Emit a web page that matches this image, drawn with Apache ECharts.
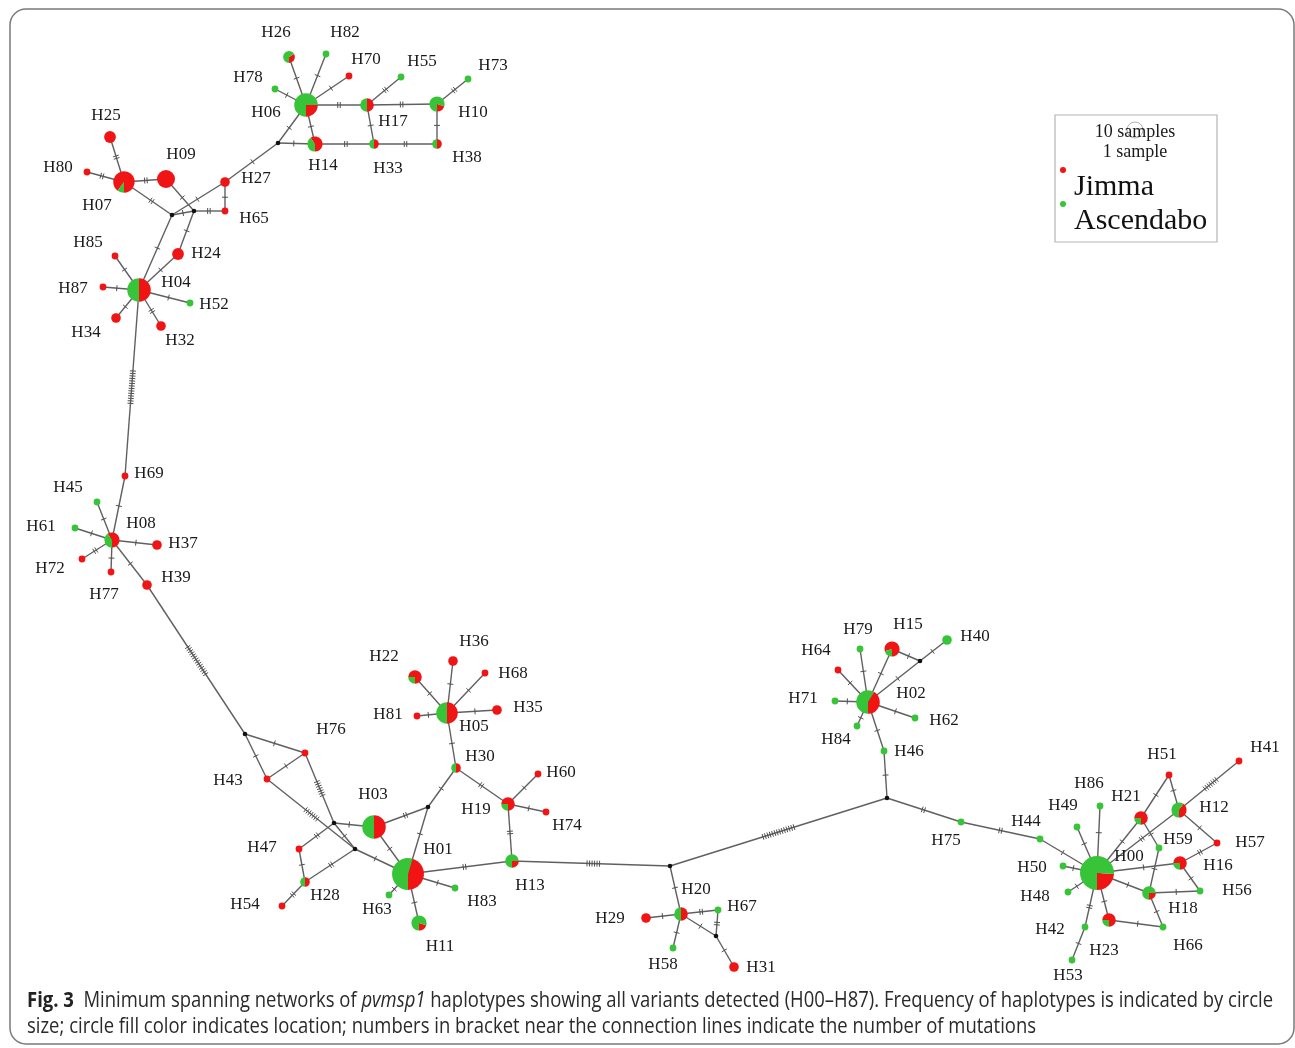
<!DOCTYPE html>
<html><head><meta charset="utf-8">
<script src="https://cdn.jsdelivr.net/npm/echarts@6/dist/echarts.min.js"></script>
<style>html,body{margin:0;padding:0;background:#fff}#c{width:1295px;height:1048px}</style>
</head><body><div id="c"></div>
<script>
// ---------- DATA ----------
// haplotype names, network layout coordinates, sample counts per location
const haplotypes = ['H06','H26','H82','H70','H78','H17','H55','H10','H73','H14','H33','H38','H27','H65','H07','H25','H80','H09','H24','H04','H85','H87','H52','H34','H32','H69','H08','H45','H61','H72','H77','H37','H39','H76','H43','H47','H28','H54','H03','H01','H63','H83','H11','H30','H05','H22','H36','H68','H35','H81','H19','H60','H74','H13','H20','H29','H67','H58','H31','H75','H02','H15','H40','H79','H64','H71','H84','H62','H46','H00','H44','H49','H86','H50','H48','H42','H53','H23','H66','H18','H56','H16','H57','H59','H21','H51','H12','H41'];
const layoutX = [306,289,326,349,275,367,401,437,468,315,374,437,225,225,124,110,87,166,178,139,115,103,190,116,161,125,112,97,75,82,111,157,147,305,267,299,305,282,374,408,389,455,419,456,447,415,453,485,497,417,508,538,546,512,681,646,718,673,734,961,868,892,947,860,838,835,857,915,884,1097,1040,1077,1100,1063,1068,1085,1072,1109,1163,1149,1200,1180,1217,1159,1141,1169,1179,1239];
const layoutY = [105,57,54,76,89,105,77,104,79,144,144,144,182,211,182,137,172,179,254,290,256,287,303,318,326,476,540,502,528,559,572,545,585,753,779,849,882,906,827,874,895,888,923,768,713,677,661,673,710,716,804,774,812,861,914,918,910,948,967,822,702,649,640,649,670,701,726,718,751,873,839,827,806,866,892,927,960,920,927,893,891,863,843,848,818,775,810,761];
const jimmaCount = [3,1,0,1,0,2,0,1,0,3,1,1,2,1,9,3,1,7,3,6,1,1,0,2,2,1,3,0,0,1,1,2,2,1,1,1,1,1,6,10,0,0,1,1,5,3,2,1,2,1,3,1,1,1,2,2,0,0,2,0,5,4,0,0,1,0,0,0,0,6,0,0,0,0,0,0,0,3,0,1,0,3,1,0,3,1,2,1];
const ascendaboCount = [9,2,1,0,1,2,1,4,1,2,1,1,0,0,1,0,0,0,0,6,0,0,1,0,0,0,2,1,1,0,0,0,0,0,0,0,1,0,6,12,1,1,4,1,5,1,0,0,0,0,1,0,0,3,2,0,1,1,0,1,7,1,2,1,0,1,1,1,1,19,1,1,1,1,1,1,1,1,1,3,1,1,0,1,1,0,3,0];
// median vectors (unsampled haplotypes)
const medianNames = ['mv1','mv2','mv3','mv4','mv5','mv6','mv7','mv8','mv9','mv10','mv11'];
const medianX = [278,172,194,245,334,355,428,670,716,887,920];
const medianY = [143,215,211,734,823,849,807,866,936,798,661];
// links: [from, to, number of mutations]
const links = [
 ['H06','H26',1],['H06','H82',1],['H06','H70',1],['H06','H78',1],['H06','H17',2],['H17','H55',2],['H17','H10',2],['H10','H73',2],
 ['H06','H14',1],['H14','H33',2],['H33','H17',1],['H33','H38',2],['H38','H10',1],['mv1','H06',1],['mv1','H14',1],['mv1','H27',1],
 ['H27','mv2',1],['H27','H65',1],['mv3','H65',2],['mv3','H09',1],['mv2','mv3',1],['mv3','H24',1],['H24','H04',1],['mv2','H07',2],
 ['mv2','H04',1],['H07','H25',2],['H07','H80',2],['H07','H09',2],['H04','H85',1],['H04','H87',1],['H04','H52',1],['H04','H34',1],
 ['H04','H32',2],['H04','H69',14],['H69','H08',1],['H08','H45',1],['H08','H61',1],['H08','H72',2],['H08','H77',1],['H08','H37',1],
 ['H08','H39',1],['H39','mv4',14],['mv4','H76',1],['mv4','H43',1],['H43','H76',1],['H76','mv5',7],['H43','mv6',7],['mv5','mv6',1],
 ['mv6','H01',1],['mv5','H03',1],['mv5','H47',2],['H47','H28',1],['mv6','H28',2],['H28','H54',2],['H03','H01',1],['H03','mv7',2],
 ['mv7','H01',1],['mv7','H30',1],['H30','H05',1],['H30','H19',2],['H05','H22',1],['H05','H36',1],['H05','H68',1],['H05','H35',1],
 ['H05','H81',1],['H19','H60',1],['H19','H74',1],['H19','H13',2],['H01','H13',2],['H01','H83',1],['H01','H63',1],['H01','H11',1],
 ['H13','mv8',6],['mv8','H20',1],['H20','H29',1],['H20','H67',2],['H67','mv9',2],['H20','mv9',1],['mv9','H31',1],['H20','H58',1],
 ['mv8','mv10',14],['mv10','H75',2],['H75','H44',2],['mv10','H46',1],['H46','H02',1],['H02','H15',1],['H15','mv11',1],['mv11','H40',1],
 ['H02','mv11',1],['H02','H79',1],['H02','H64',1],['H02','H71',1],['H02','H84',1],['H02','H62',1],['H44','H00',1],['H00','H49',1],
 ['H00','H86',1],['H00','H50',1],['H00','H48',1],['H00','H42',2],['H42','H53',1],['H00','H23',1],['H23','H66',1],['H66','H18',1],
 ['H18','H00',1],['H18','H56',1],['H18','H59',1],['H59','H21',1],['H00','H16',1],['H16','H56',1],['H16','H57',2],['H57','H12',1],
 ['H00','H12',2],['H00','H21',1],['H21','H51',1],['H51','H12',1],['H12','H41',7]
];
const legendItems = ['Jimma','Ascendabo'];
const sizeLegend = ['10 samples','1 sample'];

// ---------- LAYOUT / STYLE ----------
const labelOffset = {
 H26:[-13,-26],H82:[19,-23],H70:[17,-18],H78:[-27,-13],H55:[21,-17],H73:[25,-15],H06:[-40,6],H17:[26,15],H10:[36,7],H14:[8,20],
 H33:[14,23],H38:[30,12],H25:[-4,-23],H09:[15,-26],H80:[-29,-6],H27:[31,-5],H07:[-27,22],H65:[29,6],H85:[-27,-15],H24:[28,-2],
 H04:[37,-9],H87:[-30,0],H52:[24,0],H34:[-30,13],H32:[19,13],H69:[24,-4],H45:[-29,-16],H08:[29,-18],H61:[-34,-3],H37:[26,-3],
 H72:[-32,8],H39:[29,-9],H77:[-7,21],H36:[21,-21],H22:[-31,-22],H68:[28,-1],H35:[31,-4],H81:[-29,-3],H05:[27,12],H76:[26,-25],
 H30:[24,-13],H60:[23,-3],H43:[-39,0],H19:[-32,4],H74:[21,12],H03:[-1,-34],H01:[30,-26],H47:[-37,-3],H13:[18,23],H28:[20,12],
 H63:[-12,13],H83:[27,12],H54:[-37,-3],H11:[21,22],H20:[15,-26],H67:[24,-5],H29:[-36,-1],H58:[-10,15],H31:[27,-1],H79:[-2,-21],
 H15:[16,-26],H40:[28,-5],H64:[-22,-21],H02:[43,-10],H71:[-32,-4],H62:[29,1],H84:[-21,12],H46:[25,-1],H75:[-15,17],H44:[-14,-19],
 H51:[-7,-22],H41:[26,-15],H86:[-11,-24],H21:[-15,-23],H49:[-14,-23],H12:[35,-4],H59:[19,-10],H57:[33,-2],H00:[32,-18],H50:[-31,0],
 H16:[38,1],H48:[-33,3],H56:[37,-2],H18:[34,14],H42:[-35,1],H23:[-5,29],H66:[25,17],H53:[-4,14]
};
const RED = '#f01414', GREEN = '#38c438', EDGE = '#606060';
const SERIF = '"Liberation Serif","DejaVu Serif",serif';
function radiusOf(n){ return n > 0 ? 3.4 * Math.sqrt(n) : 2.2; }

const pos = {};
haplotypes.forEach((h,i)=>{ pos[h] = {x:layoutX[i], y:layoutY[i], n: jimmaCount[i]+ascendaboCount[i]}; });
medianNames.forEach((m,i)=>{ pos[m] = {x:medianX[i], y:medianY[i], n:0}; });

const chart = echarts.init(document.getElementById('c'), null, {renderer:'canvas'});

const edgeData = links.map(l => [pos[l[0]].x, pos[l[0]].y, pos[l[1]].x, pos[l[1]].y, l[2], radiusOf(pos[l[0]].n), radiusOf(pos[l[1]].n)]);
const nodeData = haplotypes.map((h,i)=>[layoutX[i], layoutY[i], jimmaCount[i], ascendaboCount[i], i]);
const medianData = medianNames.map((m,i)=>[medianX[i], medianY[i]]);

// caption measurement for condensed look
const capFont = 'Open Sans';
const capSize = 22;
const meas = document.createElement('canvas').getContext('2d');
function w(txt, style){ meas.font = style + ' ' + capSize + 'px "' + capFont + '"'; return meas.measureText(txt).width; }
const cap1a = 'Fig. 3', cap1b = '  Minimum spanning networks of ', cap1c = 'pvmsp1', cap1d = ' haplotypes showing all variants detected (H00\u2013H87). Frequency of haplotypes is indicated by circle';
const cap2 = 'size; circle fill color indicates location; numbers in bracket near the connection lines indicate the number of mutations';
const line1W = w(cap1a,'bold') + w(cap1b,'normal') + w(cap1c,'italic') + w(cap1d,'normal');
const capScale = 1246 / line1W;

chart.setOption({
  animation:false,
  grid:{left:0,right:0,top:0,bottom:0},
  xAxis:{type:'value',min:0,max:1295,show:false},
  yAxis:{type:'value',min:0,max:1048,inverse:true,show:false},
  series:[
    { type:'custom', name:'links', clip:false, z:1, silent:true,
      data: edgeData,
      renderItem:(params, api)=>{
        const p1 = api.coord([api.value(0), api.value(1)]);
        const p2 = api.coord([api.value(2), api.value(3)]);
        const n = api.value(4), ra = api.value(5), rb = api.value(6);
        const dx = p2[0]-p1[0], dy = p2[1]-p1[1];
        const len = Math.sqrt(dx*dx+dy*dy);
        const ux = dx/len, uy = dy/len, nx = -uy, ny = ux;
        const children = [{type:'line', shape:{x1:p1[0],y1:p1[1],x2:p2[0],y2:p2[1]}, style:{stroke:EDGE,lineWidth:1.4}}];
        const mid = ra + (len - ra - rb)/2;
        const sp = 2.5, hl = 3;
        for (let k=0;k<n;k++){
          const t = mid + (k-(n-1)/2)*sp;
          const cx = p1[0]+ux*t, cy = p1[1]+uy*t;
          children.push({type:'line', shape:{x1:cx-nx*hl,y1:cy-ny*hl,x2:cx+nx*hl,y2:cy+ny*hl}, style:{stroke:'#505050',lineWidth:1}});
        }
        return {type:'group', children};
      }
    },
    { type:'custom', name:'median', clip:false, z:2, silent:true,
      data: medianData,
      renderItem:(params, api)=>{
        const c = api.coord([api.value(0), api.value(1)]);
        return {type:'circle', shape:{cx:c[0],cy:c[1],r:2.3}, style:{fill:'#111'}};
      }
    },
    { type:'custom', name:'haplotypes', clip:false, z:3, silent:true,
      data: nodeData,
      renderItem:(params, api)=>{
        const c = api.coord([api.value(0), api.value(1)]);
        const j = api.value(2), a = api.value(3), idx = api.value(4);
        const n = j + a, r = radiusOf(n);
        const name = haplotypes[idx];
        const children = [];
        if (j === 0 || a === 0) {
          children.push({type:'circle', shape:{cx:c[0],cy:c[1],r}, style:{fill: j ? RED : GREEN}});
        } else {
          const fr = j / n, base = Math.PI/2;
          children.push({type:'sector', shape:{cx:c[0],cy:c[1],r0:0,r,startAngle:base - fr*2*Math.PI,endAngle:base,clockwise:true}, style:{fill:RED}});
          children.push({type:'sector', shape:{cx:c[0],cy:c[1],r0:0,r,startAngle:base,endAngle:base + (1-fr)*2*Math.PI,clockwise:true}, style:{fill:GREEN}});
        }
        const off = labelOffset[name] || [20,0];
        children.push({type:'text', style:{text:name, x:c[0]+off[0], y:c[1]+off[1]+2, align:'center', verticalAlign:'middle', fontSize:17, fontFamily:SERIF, fill:'#1a1a1a'}});
        return {type:'group', children};
      }
    }
  ],
  graphic:[
    {type:'rect', shape:{x:10,y:9,width:1284,height:1035,r:16}, style:{fill:'none',stroke:'#7a7a7a',lineWidth:1.5}, silent:true},
    {type:'group', silent:true, children:[
      {type:'rect', shape:{x:1055,y:115,width:162,height:127}, style:{fill:'#fff',stroke:'#b5b5b5',lineWidth:1.2}},
      {type:'circle', shape:{cx:1135,cy:130,r:8}, style:{fill:'none',stroke:'#9a9a9a',lineWidth:0.8}},
      {type:'text', style:{text:sizeLegend[0], x:1135, y:132, align:'center', verticalAlign:'middle', fontSize:18, fontFamily:SERIF, fill:'#1a1a1a'}},
      {type:'text', style:{text:sizeLegend[1], x:1135, y:152, align:'center', verticalAlign:'middle', fontSize:18, fontFamily:SERIF, fill:'#1a1a1a'}},
      {type:'circle', shape:{cx:1063,cy:170,r:3}, style:{fill:RED}},
      {type:'text', style:{text:legendItems[0], x:1074, y:187, align:'left', verticalAlign:'middle', fontSize:30, fontFamily:SERIF, fill:'#111'}},
      {type:'circle', shape:{cx:1063,cy:204,r:3}, style:{fill:GREEN}},
      {type:'text', style:{text:legendItems[1], x:1074, y:221, align:'left', verticalAlign:'middle', fontSize:30, fontFamily:SERIF, fill:'#111'}}
    ]},
    {type:'group', x:27, y:1001, scaleX:capScale, silent:true, children:[
      {type:'text', style:{
        text:'{b|'+cap1a+'}'+cap1b+'{i|'+cap1c+'}'+cap1d,
        x:0, y:0, align:'left', verticalAlign:'middle', fontSize:capSize, fontFamily:capFont, fill:'#2a2a2a',
        rich:{ b:{fontWeight:'bold', fontSize:capSize, fontFamily:capFont, fill:'#222'}, i:{fontStyle:'italic', fontSize:capSize, fontFamily:capFont, fill:'#2a2a2a'} }
      }}
    ]},
    {type:'group', x:27, y:1027, scaleX:capScale, silent:true, children:[
      {type:'text', style:{text:cap2, x:0, y:0, align:'left', verticalAlign:'middle', fontSize:capSize, fontFamily:capFont, fill:'#2a2a2a'}}
    ]}
  ]
});
</script></body></html>
